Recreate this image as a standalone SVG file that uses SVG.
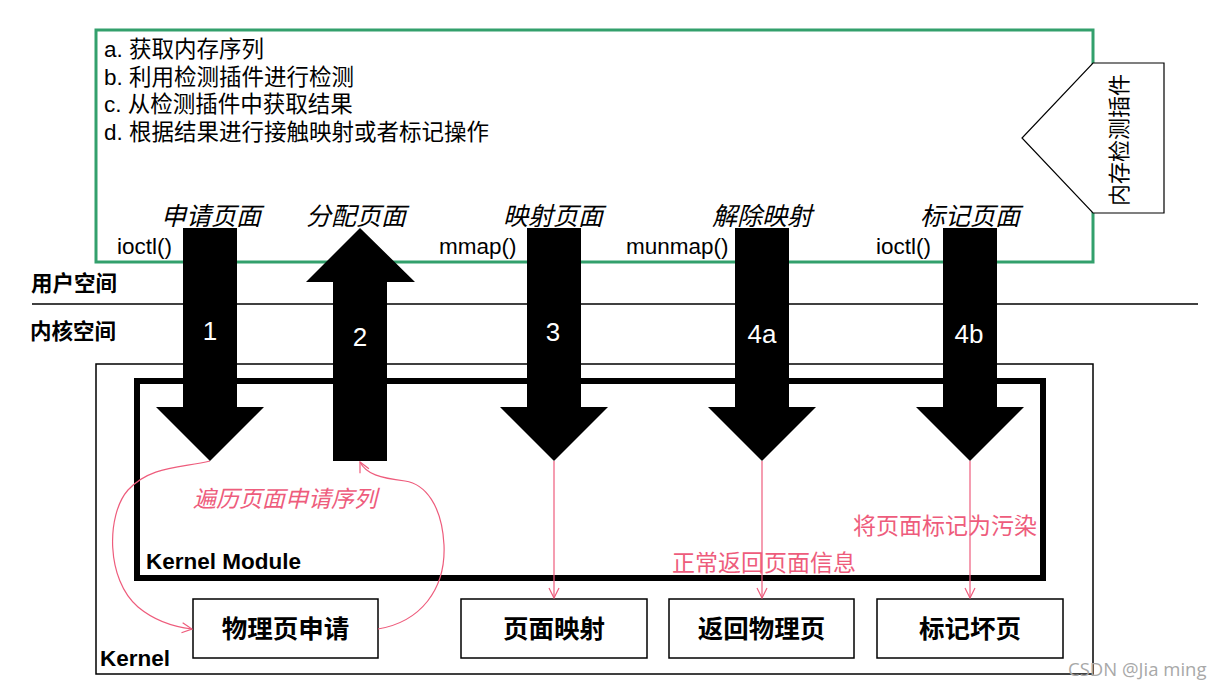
<svg xmlns="http://www.w3.org/2000/svg" width="1226" height="690" viewBox="0 0 1226 690">
<defs>
<style>
.t{font-family:"Liberation Sans","Noto Sans CJK SC",sans-serif;fill:#000}
.cj{font-family:"Noto Sans CJK SC","Liberation Sans",sans-serif}
.b{font-weight:bold}
.it{font-style:italic}
.pk{fill:#ee5c7c}
.num{font-family:"Liberation Sans",sans-serif;font-size:26px;fill:#fff;text-anchor:middle}
.fn{font-family:"Liberation Sans",sans-serif;font-size:22.5px;fill:#000}
.ls{font-family:"Liberation Sans","Noto Sans CJK SC",sans-serif;font-size:22.5px;fill:#000}
.box{fill:#fff;stroke:#000;stroke-width:1.5}
.arr{fill:#000}
.pl{fill:none;stroke:#ee5c7c;stroke-width:1.2}
</style>
<marker id="oa" viewBox="0 0 12 12" refX="11" refY="6" markerWidth="12" markerHeight="12" markerUnits="userSpaceOnUse" orient="auto">
<path d="M1,1 L11,6 L1,11" fill="none" stroke="#ee5c7c" stroke-width="1.2"/>
</marker>
</defs>
<rect width="1226" height="690" fill="#fff"/>

<g id="user-plugin">
<rect x="96" y="30" width="997" height="232" fill="#fff" stroke="#33a06c" stroke-width="3"/>
<text class="ls" x="104" y="57">a. 获取内存序列</text>
<text class="ls" x="104" y="85">b. 利用检测插件进行检测</text>
<text class="ls" x="104" y="112">c. 从检测插件中获取结果</text>
<text class="ls" x="104" y="140">d. 根据结果进行接触映射或者标记操作</text>
</g>

<g id="plugin-label">
<polygon points="1093,63 1164,63 1164,213 1093,213 1022,138" fill="#fff" stroke="#000" stroke-width="1.2"/>
<text class="t cj" font-size="22" text-anchor="middle" transform="translate(1127,140) rotate(-90)">内存检测插件</text>
</g>

<g id="space-labels">
<line x1="32" y1="304" x2="1198" y2="304" stroke="#000" stroke-width="1.3"/>
<text class="t cj b" font-size="21.5" x="31" y="291">用户空间</text>
<text class="t cj b" font-size="21.5" x="30" y="339">内核空间</text>
</g>

<g id="kernel">
<rect x="96" y="364" width="997" height="310" fill="none" stroke="#000" stroke-width="1.5"/>
<text class="t b" font-size="22.5" x="100" y="666">Kernel</text>
</g>

<g id="kernel-module">
<rect x="137" y="381" width="906" height="197" fill="none" stroke="#000" stroke-width="6"/>
<text class="t b" font-size="22.5" x="146" y="569">Kernel Module</text>
</g>

<g id="box-alloc"><rect class="box" x="193" y="599" width="185" height="59"/><text class="t cj b" font-size="25.5" x="285.5" y="638" text-anchor="middle">物理页申请</text></g>
<g id="box-map"><rect class="box" x="461" y="599" width="186" height="59"/><text class="t cj b" font-size="25.5" x="554" y="638" text-anchor="middle">页面映射</text></g>
<g id="box-return"><rect class="box" x="669" y="599" width="185" height="59"/><text class="t cj b" font-size="25.5" x="761.5" y="638" text-anchor="middle">返回物理页</text></g>
<g id="box-mark"><rect class="box" x="877" y="599" width="186" height="59"/><text class="t cj b" font-size="25.5" x="970" y="638" text-anchor="middle">标记坏页</text></g>

<g id="connectors">
<path class="pl" d="M210,461 C180,468 150,466 128,490 C106,515 106,580 138,607 C156,622 175,627 192,629" marker-end="url(#oa)"/>
<path class="pl" d="M378,629 C420,622 446,590 444,545 C442,505 425,484 405,481 C380,478 366,474 360,462" marker-end="url(#oa)"/>
<line class="pl" x1="554" y1="461" x2="554" y2="598" marker-end="url(#oa)"/>
<line class="pl" x1="762" y1="461" x2="762" y2="598" marker-end="url(#oa)"/>
<line class="pl" x1="970" y1="461" x2="970" y2="598" marker-end="url(#oa)"/>
<text class="cj it pk" font-size="23" x="285" y="507" text-anchor="middle">遍历页面申请序列</text>
<text class="cj pk" font-size="23" x="764" y="571" text-anchor="middle">正常返回页面信息</text>
<text class="cj pk" font-size="23" x="945" y="534" text-anchor="middle">将页面标记为污染</text>
</g>

<g id="arrow-1">
<polygon class="arr" points="183,228 237,228 237,407 264,407 210,461 156,407 183,407"/>
<text class="num" x="210" y="340">1</text>
<text class="t cj it" font-size="25" x="211" y="225" text-anchor="middle">申请页面</text>
<text class="fn" x="117" y="254">ioctl()</text>
</g>
<g id="arrow-2">
<polygon class="arr" points="333,461 387,461 387,282 415,282 360,228 306,282 333,282"/>
<text class="num" x="360" y="346">2</text>
<text class="t cj it" font-size="25" x="356" y="225" text-anchor="middle">分配页面</text>
</g>
<g id="arrow-3">
<polygon class="arr" points="527,228 581,228 581,407 608,407 554,461 500,407 527,407"/>
<text class="num" x="553" y="341">3</text>
<text class="t cj it" font-size="25" x="553" y="225" text-anchor="middle">映射页面</text>
<text class="fn" x="439" y="254">mmap()</text>
</g>
<g id="arrow-4a">
<polygon class="arr" points="735,228 789,228 789,407 816,407 762,461 708,407 735,407"/>
<text class="num" x="762" y="343">4a</text>
<text class="t cj it" font-size="25" x="762" y="225" text-anchor="middle">解除映射</text>
<text class="fn" x="626" y="254">munmap()</text>
</g>
<g id="arrow-4b">
<polygon class="arr" points="943,228 997,228 997,407 1024,407 970,461 916,407 943,407"/>
<text class="num" x="969" y="343">4b</text>
<text class="t cj it" font-size="25" x="970" y="225" text-anchor="middle">标记页面</text>
<text class="fn" x="876" y="254">ioctl()</text>
</g>

<text font-family="'Open Sans','Noto Sans',sans-serif" font-size="18.5" fill="#a8a8a8" x="1068" y="676">CSDN @Jia ming</text>
</svg>
